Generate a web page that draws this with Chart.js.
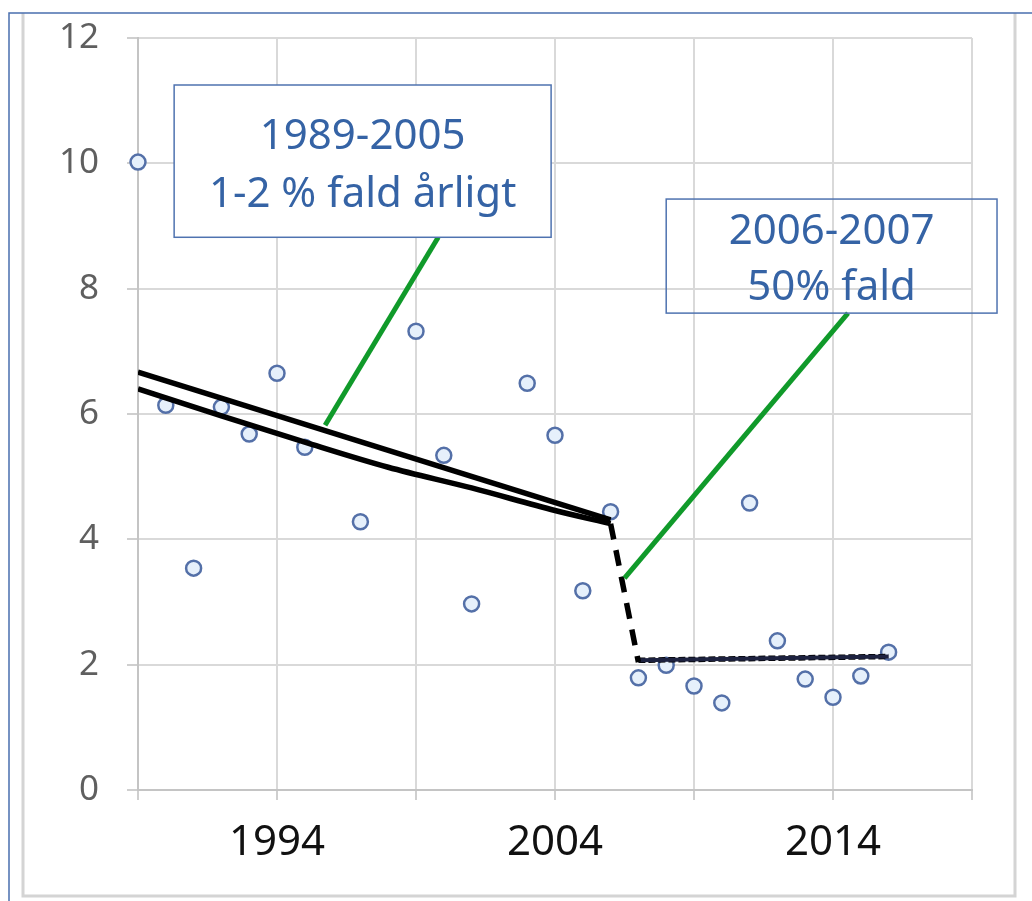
<!DOCTYPE html>
<html>
<head>
<meta charset="utf-8">
<script src="https://cdn.jsdelivr.net/npm/chart.js@4"></script>
<style>
  html, body { margin: 0; padding: 0; background: #fff; }
  #wrap { width: 1032px; height: 901px; }
</style>
</head>
<body>
<div id="wrap"><canvas id="chart" width="1032" height="901"></canvas></div>
<script>
// observations (year, value)
const years = [1989, 1990, 1991, 1992, 1993, 1994, 1995, 1997, 1999, 2000, 2001, 2003, 2004,
               2005, 2006, 2007, 2008, 2009, 2010, 2011, 2012, 2013, 2014, 2015, 2016];
const values = [10.02, 6.14, 3.54, 6.11, 5.68, 6.65, 5.47, 4.28, 7.32, 5.34, 2.97, 6.49, 5.66,
                3.18, 4.44, 1.79, 1.99, 1.66, 1.39, 4.58, 2.38, 1.77, 1.48, 1.82, 2.20];

// trend lines
const linearYears = [1989, 2006];
const linearValues = [6.67, 4.31];
const curveYears = [1989, 1992, 1995, 1998, 2001, 2004, 2006];
const curveValues = [6.40, 5.97, 5.55, 5.15, 4.82, 4.46, 4.25];
const dropYears = [2006, 2007];
const dropValues = [4.25, 2.04];
const flatYears = [2007, 2016];
const flatValues = [2.07, 2.13];

// callouts
const calloutA = [[1999.8, 8.82], [1995.73, 5.82]];
const calloutB = [[2014.54, 7.61], [2006.5, 3.38]];
const boxA = { x0: 1990.3, x1: 2003.86, y0: 11.25, y1: 8.82, fill: true,
               lines: [["1989-2005", 10.42], ["1-2 % fald årligt", 9.49]] };
const boxB = { x0: 2008.0, x1: 2019.9, y0: 9.43, y1: 7.61, fill: false,
               lines: [["2006-2007", 8.90], ["50% fald", 8.01]] };

const xTickLabels = [1994, 2004, 2014];

function pts(xs, ys) {
  return xs.map((x, i) => ({ x: x, y: ys[i] }));
}
function pairs(arr) {
  return arr.map(p => ({ x: p[0], y: p[1] }));
}

const frame = {
  id: 'frame',
  beforeDraw(chart) {
    const ctx = chart.ctx;
    ctx.save();
    ctx.fillStyle = '#fff';
    ctx.fillRect(0, 0, chart.width, chart.height);
    ctx.strokeStyle = '#d4d4d4';
    ctx.lineWidth = 3;
    ctx.beginPath();
    ctx.moveTo(23, 13); ctx.lineTo(23, 896); ctx.lineTo(1015, 896); ctx.lineTo(1015, 13);
    ctx.stroke();
    ctx.strokeStyle = '#4a6fae';
    ctx.lineWidth = 1.5;
    ctx.beginPath();
    ctx.moveTo(9, 901); ctx.lineTo(9, 13); ctx.lineTo(1032, 13);
    ctx.stroke();
    ctx.restore();
  }
};

const boxes = {
  id: 'boxes',
  afterDatasetsDraw(chart) {
    const ctx = chart.ctx;
    const xs = chart.scales.x, ys = chart.scales.y;
    ctx.save();
    [boxA, boxB].forEach(b => {
      const l = xs.getPixelForValue(b.x0), r = xs.getPixelForValue(b.x1);
      const t = ys.getPixelForValue(b.y0), btm = ys.getPixelForValue(b.y1);
      if (b.fill) {
        ctx.fillStyle = '#fff';
        ctx.fillRect(l, t, r - l, btm - t);
      }
      ctx.strokeStyle = '#4f73b0';
      ctx.lineWidth = 1.5;
      ctx.strokeRect(l, t, r - l, btm - t);
      ctx.fillStyle = '#3563a5';
      ctx.font = '42px "Noto Sans"';
      ctx.textAlign = 'center';
      ctx.textBaseline = 'middle';
      b.lines.forEach(ln => {
        ctx.fillText(ln[0], (l + r) / 2, ys.getPixelForValue(ln[1]));
      });
    });
    ctx.restore();
  }
};

const lineBase = { showLine: true, pointRadius: 0, fill: false, borderColor: '#000', tension: 0 };

new Chart(document.getElementById('chart'), {
  type: 'scatter',
  data: {
    datasets: [
      Object.assign({}, lineBase, { data: pairs(calloutA), borderColor: '#109a2a', borderWidth: 5, order: 0 }),
      Object.assign({}, lineBase, { data: pairs(calloutB), borderColor: '#109a2a', borderWidth: 5, order: 0 }),
      Object.assign({}, lineBase, { data: pts(linearYears, linearValues), borderWidth: 5.5, order: 1 }),
      Object.assign({}, lineBase, { data: pts(curveYears, curveValues), borderWidth: 5.5,
        cubicInterpolationMode: 'monotone', order: 1 }),
      Object.assign({}, lineBase, { data: pts(dropYears, dropValues), borderWidth: 5.5,
        borderDash: [16, 11], order: 1 }),
      Object.assign({}, lineBase, { data: pts(flatYears, flatValues), borderWidth: 4,
        borderColor: '#1d2240', order: 1 }),
      Object.assign({}, lineBase, { data: pts(flatYears, flatValues), borderWidth: 5.5,
        borderDash: [7, 3], order: 1 }),
      {
        data: pts(years, values),
        pointRadius: 7.5,
        pointBorderWidth: 2.5,
        borderColor: '#5470a8',
        backgroundColor: '#e6f0fb',
        pointHoverRadius: 7.5,
        clip: false,
        order: 2
      }
    ]
  },
  options: {
    responsive: false,
    animation: false,
    events: [],
    layout: { padding: { left: 0, top: 38, right: 60, bottom: 0 } },
    plugins: { legend: { display: false }, tooltip: { enabled: false } },
    scales: {
      x: {
        type: 'linear',
        min: 1989,
        max: 2019,
        afterFit(s) { s.height = 111; s.paddingLeft = 0; s.paddingRight = 0; },
        ticks: {
          stepSize: 5,
          padding: 18,
          color: '#111',
          font: { family: 'Noto Sans', size: 42 },
          maxRotation: 0,
          autoSkip: false,
          callback: v => xTickLabels.includes(v) ? String(v) : ''
        },
        grid: { color: '#d9d9d9', lineWidth: 2, tickLength: 10, tickColor: '#cfcfcf' },
        border: { color: '#c4c4c4', width: 2 }
      },
      y: {
        min: 0,
        max: 12,
        afterFit(s) { s.width = 138; s.paddingTop = 0; s.paddingBottom = 0; },
        ticks: {
          stepSize: 2,
          padding: 28,
          color: '#5f5f5f',
          font: { family: 'Noto Sans', size: 35 }
        },
        grid: { color: '#d9d9d9', lineWidth: 2, tickLength: 11, tickColor: '#cfcfcf' },
        border: { color: '#c4c4c4', width: 2 }
      }
    }
  },
  plugins: [frame, boxes]
});
</script>
</body>
</html>
